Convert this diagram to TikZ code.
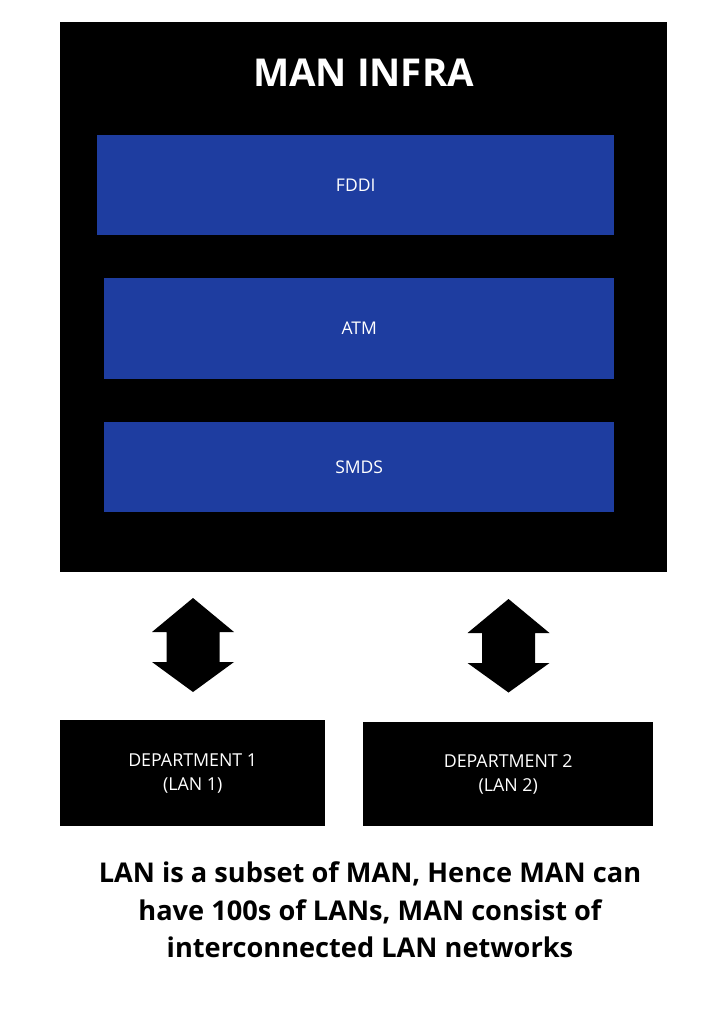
\documentclass[tikz,border=0pt]{standalone}
\usepackage{fontspec}
\setmainfont{Open Sans}
\newfontfamily\titlefont{Open Sans}[UprightFont=* Bold]
\definecolor{layerblue}{HTML}{1E3DA0}
\tikzset{
  blk/.style={fill=black, draw=none, inner sep=0pt, anchor=north west},
  layer/.style={fill=layerblue, draw=none, inner sep=0pt, anchor=north west},
  layertext/.style={text=white, font=\fontsize{17.5}{20}\selectfont},
  dept/.style={text=white, align=center, font=\fontsize{17.8}{24}\selectfont},
  blockarrow/.style={fill=black, draw=none}
}
\begin{document}
\begin{tikzpicture}[x=1pt,y=-1pt]
\useasboundingbox (0,0) rectangle (724,1024);
\fill[white] (0,0) rectangle (724,1024);
% MAN infrastructure box
\node[blk, minimum width=607pt, minimum height=550pt] (man) at (60,22) {};
\node[text=white, font=\titlefont\fontsize{38.4}{40}\selectfont] (title) at (363.5,73) {MAN INFRA};
\node[layer, minimum width=517pt, minimum height=100pt] (fddi) at (97,135) {};
\node[layertext] (fddit) at (fddi.center) {FDDI};
\node[layer, minimum width=510pt, minimum height=101pt] (atm) at (104,278) {};
\node[layertext] (atmt) at (atm.center) {ATM};
\node[layer, minimum width=510pt, minimum height=90pt] (smds) at (104,422) {};
\node[layertext] (smdst) at (smds.center) {SMDS};
% departments
\node[blk, minimum width=265pt, minimum height=106pt] (d1) at (60,720) {};
\node[dept] (d1t) at (d1.center) {DEPARTMENT 1\\(LAN 1)};
\node[blk, minimum width=290pt, minimum height=104pt] (d2) at (363,722) {};
\node[dept] (d2t) at (d2.center) {DEPARTMENT 2\\(LAN 2)};
% double block arrows
\coordinate (a1) at (193,645);
\coordinate (a2) at (508.5,645.5);
\fill[blockarrow] (a1) ++(0,-47) -- ++(41,34) -- ++(-14.5,0) -- ++(0,30) -- ++(14.5,0)
  -- ++(-41,30) -- ++(-41,-30) -- ++(14.5,0) -- ++(0,-30) -- ++(-14.5,0) -- cycle;
\fill[blockarrow] (a2) ++(0,-46.5) -- ++(41,34) -- ++(-14.5,0) -- ++(0,30) -- ++(14.5,0)
  -- ++(-41,29.5) -- ++(-41,-29.5) -- ++(14.5,0) -- ++(0,-30) -- ++(-14.5,0) -- cycle;
% caption
\node[align=center, font=\titlefont\fontsize{27.2}{37.5}\selectfont] (cap) at (370,910)
  {LAN is a subset of MAN, Hence MAN can\\have 100s of LANs, MAN consist of\\interconnected LAN networks};
\end{tikzpicture}
\end{document}
